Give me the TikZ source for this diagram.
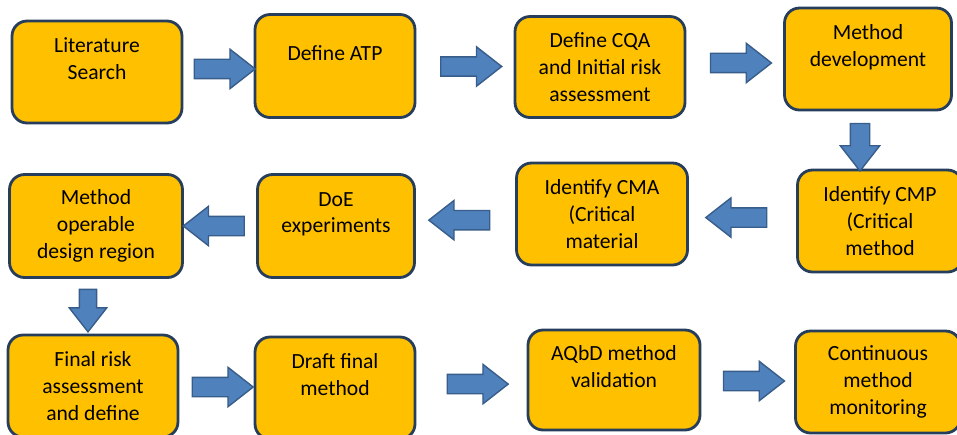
\documentclass[tikz,border=0pt]{standalone}
\usepackage{fontspec}
\setmainfont{Carlito}
\usetikzlibrary{shapes.arrows}
\definecolor{boxgold}{RGB}{255,192,0}
\definecolor{boxedge}{RGB}{38,62,92}
\definecolor{arrowblue}{RGB}{79,129,189}
\definecolor{arrowedge}{RGB}{56,93,138}

\begin{document}
\begin{tikzpicture}[
    x=0.02cm, y=-0.02cm,
    every node/.style={align=center},
    stage/.style={rectangle, rounded corners=0.3cm, minimum width=3.4cm, minimum height=2.04cm, text centered, draw=boxedge, fill=boxgold, line width=1.6pt, font=\fontsize{12.3}{15.2}\selectfont},
    barrow/.style={single arrow, draw=arrowedge, fill=arrowblue, line width=0.8pt, inner sep=0pt, text width=0.36cm, text height=0.18cm, text depth=0.18cm, minimum height=1.22cm, single arrow head extend=0.2cm, single arrow tip angle=76},
    larrow/.style={barrow, shape border rotate=180},
    darrow/.style={barrow, shape border rotate=270, minimum height=0.95cm}
]
\useasboundingbox (0,0) rectangle (957,434);

% First row
\node[stage] (lit) at (97,72) {Literature\\Search\\~};
\node[stage, minimum width=3.2cm, minimum height=2.06cm] (atp) at (335,66) {Define ATP\\~};
\node[stage, minimum height=2.02cm] (cqa) at (600,67) {Define CQA\\and Initial risk\\assessment};
\node[stage, minimum width=3.34cm] (mdev) at (868,59) {Method\\development\\~};

% Second row
\node[stage, minimum width=3.3cm] (cmp) at (880,221) {Identify CMP\\(Critical\\method};
\node[stage, minimum width=3.42cm] (cma) at (602,214) {Identify CMA\\(Critical\\material};
\node[stage, minimum width=3.14cm, minimum height=2.06cm] (doe) at (336,226) {DoE\\experiments\\~};
\node[stage, minimum width=3.46cm, minimum height=2.06cm] (mreg) at (96,226) {Method\\operable\\design region};

% Third row
\node[stage] (final) at (93,386) {Final risk\\assessment\\and define};
\node[stage, minimum width=3.2cm] (draft) at (335,388) {Draft final\\method\\~};
\node[stage, minimum width=3.44cm, minimum height=2.0cm] (aqbd) at (614,380) {AQbD method\\validation\\~};
\node[stage, minimum width=3.3cm] (cont) at (878,382) {Continuous\\method\\monitoring};

% Block arrows
\path (lit) -- node[barrow] (a1) {} (atp);
\path (atp) -- node[barrow] (a2) {} (cqa);
\path (cqa) -- node[barrow] (a3) {} (mdev);
\node[darrow] (a4) at (860,141) {};
\path (cmp) -- node[larrow] (a5) {} (cma);
\path (cma) -- node[larrow] (a6) {} (doe);
\path (doe) -- node[larrow] (a7) {} (mreg);
\node[darrow, text width=0.32cm, text height=0.16cm, text depth=0.16cm, minimum height=0.85cm] (a8) at (88,305) {};
\path (final) -- node[barrow] (a9) {} (draft);
\path (draft) -- node[barrow] (a10) {} (aqbd);
\path (aqbd) -- node[barrow] (a11) {} (cont);

\end{tikzpicture}
\end{document}
